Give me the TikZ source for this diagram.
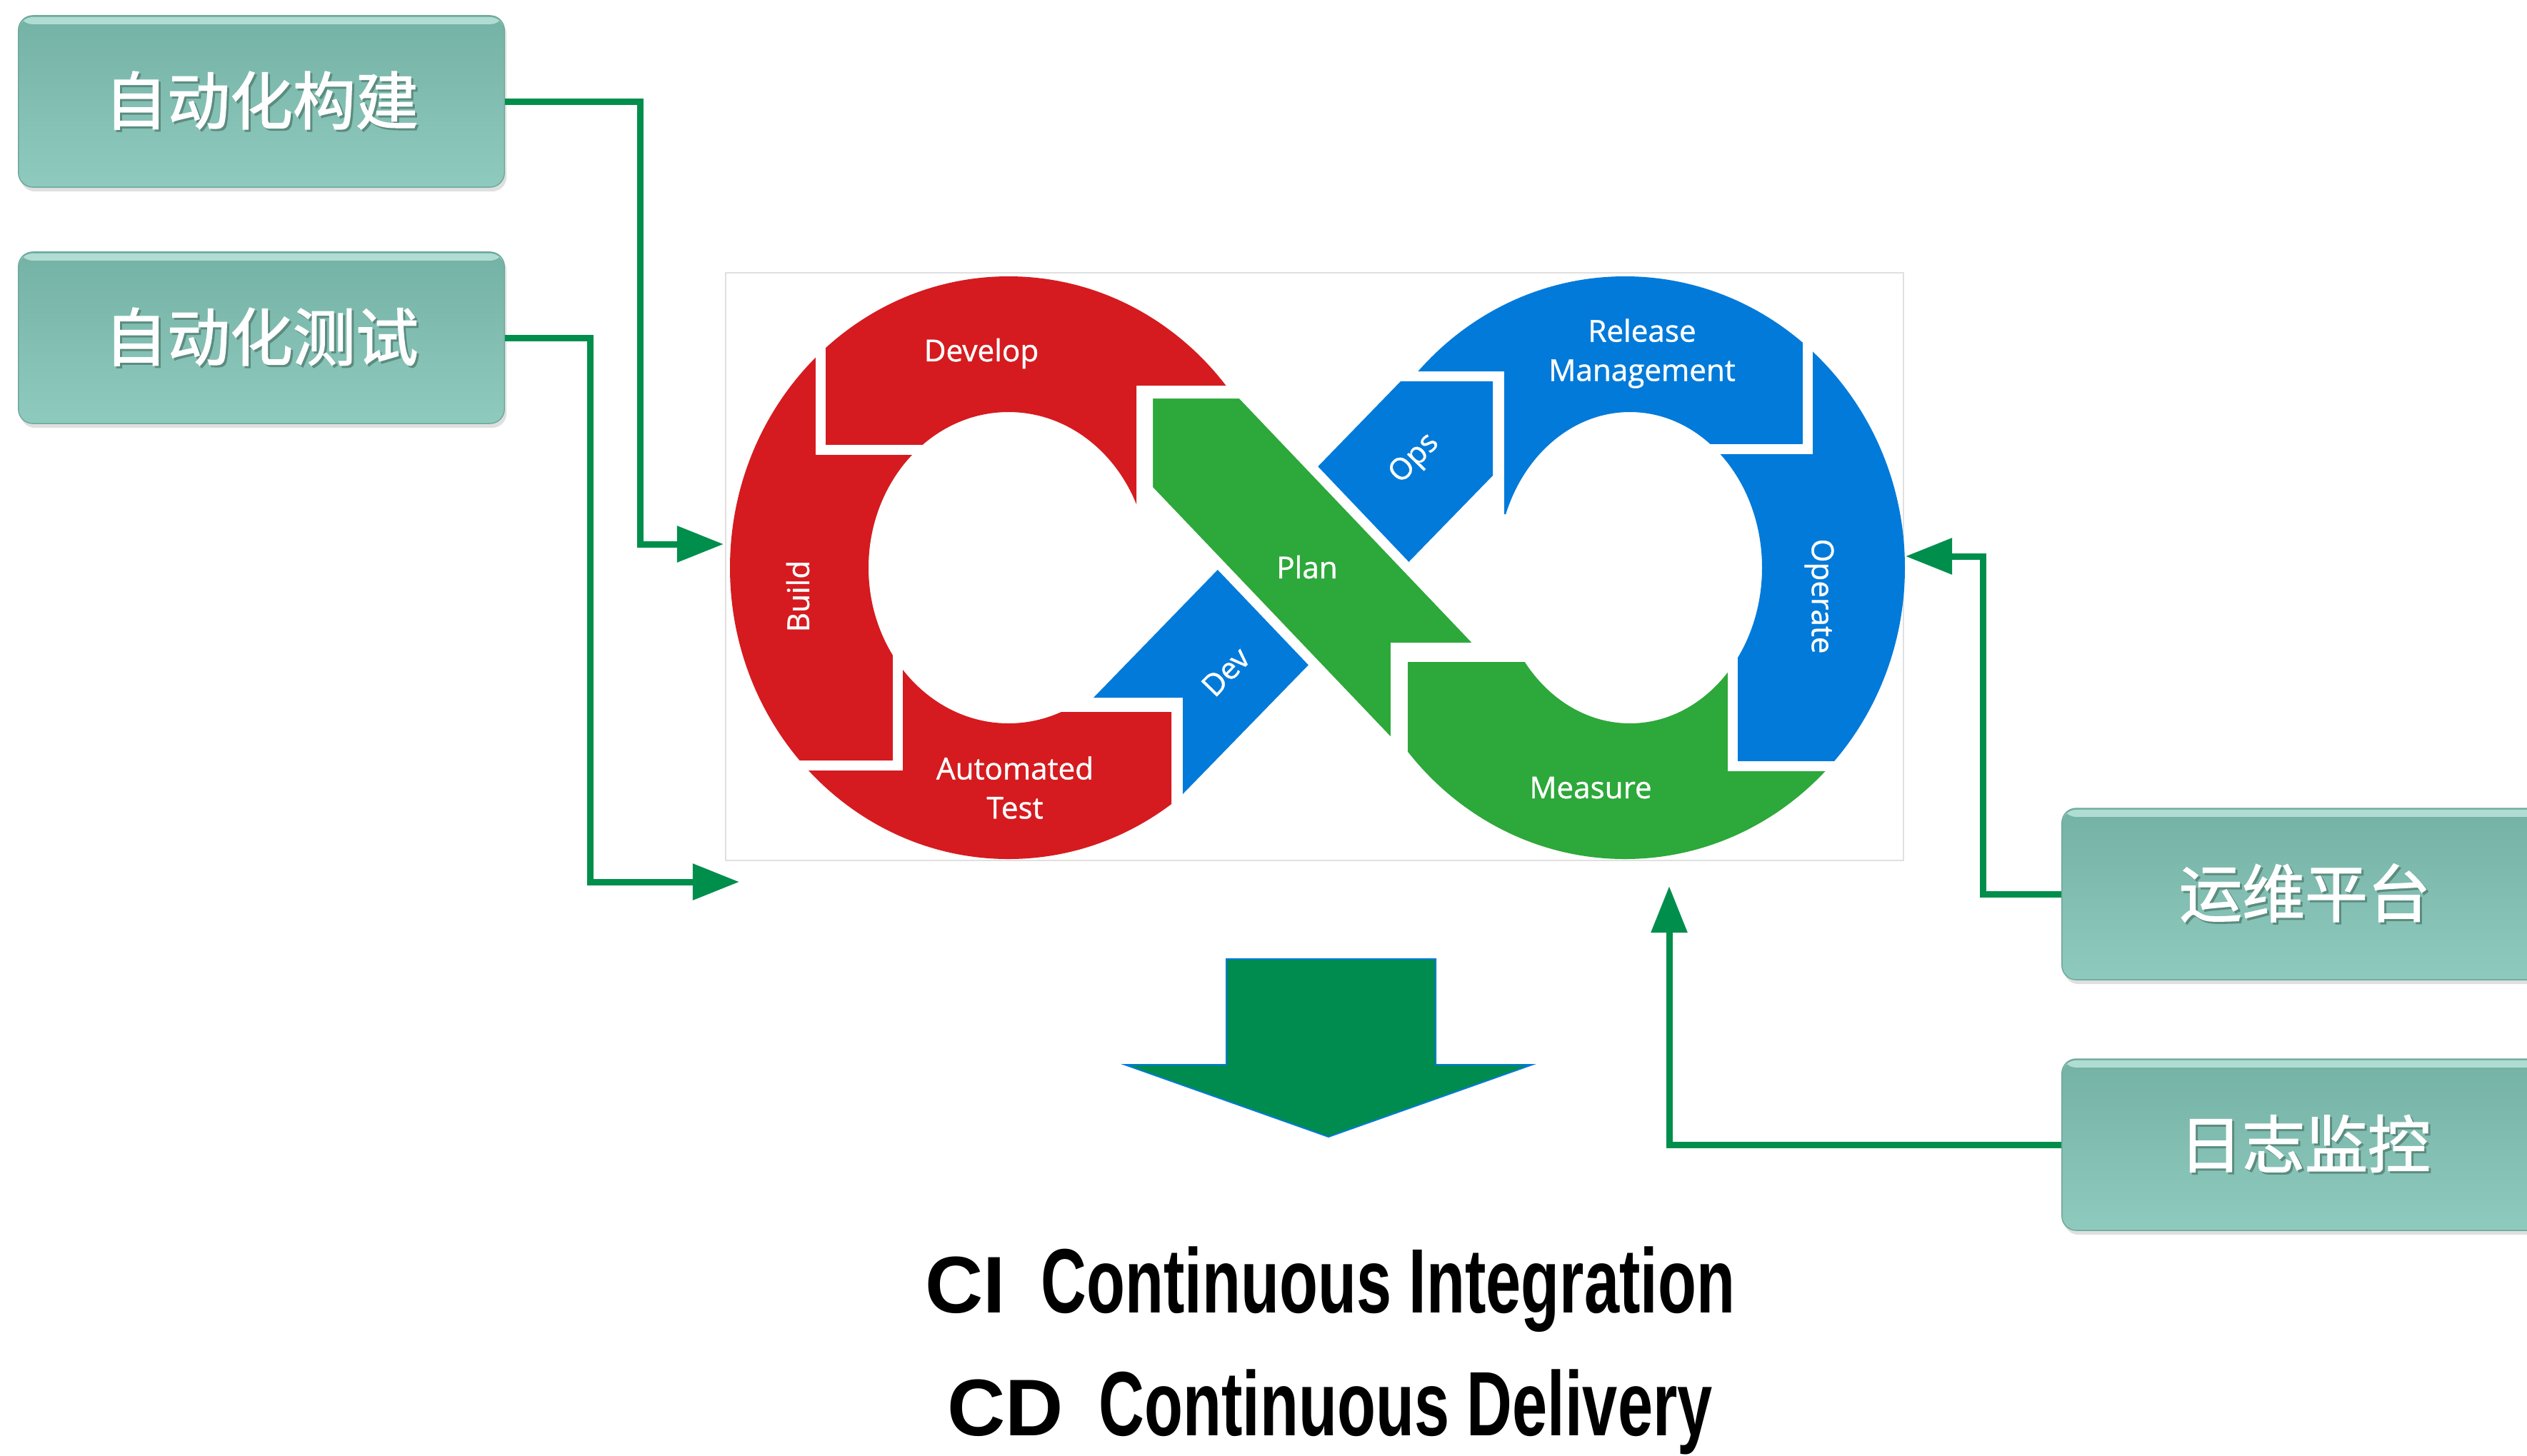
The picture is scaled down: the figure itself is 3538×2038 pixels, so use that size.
\documentclass[tikz,border=0pt]{standalone}
\usepackage{fontspec}
\usepackage{graphicx}
\usetikzlibrary{arrows.meta, shadows}
\newfontfamily\cjk{Noto Sans CJK SC}[FakeBold=1.6]
\newfontfamily\logofont{Open Sans}[FakeBold=1]
\newfontfamily\cifont{Liberation Sans}

\definecolor{devred}{RGB}{213,27,31}
\definecolor{devblue}{RGB}{2,122,218}
\definecolor{devgreen}{RGB}{45,168,58}
\definecolor{linkgreen}{RGB}{0,142,76}
\definecolor{bigarrow}{RGB}{0,140,78}
\definecolor{boxtop}{RGB}{116,178,165}
\definecolor{boxbottom}{RGB}{143,202,190}
\definecolor{boxhigh}{RGB}{176,221,211}
\definecolor{boxedge}{RGB}{110,168,155}
\definecolor{framegray}{RGB}{224,224,224}
\definecolor{textshade}{RGB}{92,140,128}

\newcommand{\shadowed}[1]{\rlap{\raisebox{-0.3mm}{\hspace{0.3mm}\textcolor{textshade}{#1}}}#1}
\newcommand{\narrow}[1]{\scalebox{0.69}[1]{#1}}

\tikzset{
  stagebox/.style={rounded corners=2mm, draw=boxedge, line width=0.4pt,
    top color=boxtop, bottom color=boxbottom,
    minimum width=68mm, minimum height=24mm, text=white,
    font=\cjk\fontsize{25}{30}\selectfont,
    drop shadow={opacity=0.25, shadow xshift=0.3mm, shadow yshift=-0.6mm},
    path picture={\fill[boxhigh] ([yshift=-0.2mm]path picture bounding box.north west)
      rectangle ([yshift=-1.2mm]path picture bounding box.north east);}},
  link/.style={linkgreen, line width=0.9mm, -{Triangle[length=6.5mm, width=4.9mm]}},
  logotext/.style={text=white, font=\logofont\fontsize{12}{15.6}\selectfont,
    align=center, inner sep=0pt},
  gap/.style={white, line width=1.4mm}
}

\begin{document}
\begin{tikzpicture}[x=0.01cm, y=-0.01cm]
  \useasboundingbox (0,0) rectangle (3538,2038);

  % Kaesten
  \foreach \nm/\pos/\txt in {buildbox/{366,142}/自动化构建, testbox/{366,473}/自动化测试,
                             opsbox/{3227,1252}/运维平台, logbox/{3227,1603}/日志监控}
    \node[stagebox] (\nm) at (\pos) {\shadowed{\txt}};

  % Rahmen um das Logo
  \draw[framegray, line width=0.2mm] (1016,382) rectangle (2665,1205);

  \coordinate (lc) at (1412,795);
  \coordinate (rc) at (2275,795);
  \coordinate (rh) at (2282,795);

  % linke Schleife
  \begin{scope}
    \clip (900,300) -- (1800,300) -- (1800,540) -- (1591,540) -- (1591,720)
      -- (1480,997) -- (1640,997) -- (1640,1300) -- (900,1300) -- cycle;
    \fill[devred, even odd rule] (lc) ellipse [x radius=390, y radius=408]
      (lc) ellipse [x radius=196, y radius=218];
  \end{scope}

  % rechte Schleife
  \begin{scope}
    \clip (1900,300) -- (2800,300) -- (2800,1073) -- (2426,1073) -- (2426,850)
      -- (2300,700) -- (2150,720) -- (2106,720) -- (2106,520) -- (1900,520) -- cycle;
    \fill[devblue, even odd rule] (rc) ellipse [x radius=392, y radius=408]
      (rh) ellipse [x radius=185, y radius=218];
  \end{scope}
  \begin{scope}
    \clip (1971,927) -- (2426,927) -- (2426,1073) -- (2800,1073) -- (2800,1300)
      -- (1971,1300) -- cycle;
    \fill[devgreen, even odd rule] (rc) ellipse [x radius=392, y radius=408]
      (rh) ellipse [x radius=185, y radius=218];
  \end{scope}

  % Luecken
  \draw[gap] (1149,440) -- (1149,630) -- (1330,630);
  \draw[gap] (1090,1072) -- (1257,1072) -- (1257,880);
  \draw[gap] (2531,440) -- (2531,629) -- (2370,629);
  \draw[gap] (2426,880) -- (2426,1073) -- (2620,1073);

  % Baender
  \fill[devblue] (1531,977) -- (1656,977) -- (1656,1112) -- (2090,666)
    -- (2090,534) -- (1961,534) -- cycle;
  \filldraw[fill=devgreen, draw=white, line width=1.4mm] (1607,551) -- (1738,551)
    -- (2077,907) -- (1954,907) -- (1954,1049) -- (1607,685) -- cycle;

  % Beschriftung im Logo
  \foreach \nm/\pos/\rot/\txt in {lbdevelop/{1374,495}/0/Develop, lbbuild/{1117,835}/90/Build,
      lbtest/{1421,1103}/0/{Automated\\Test}, lbdev/{1716,941}/46/Dev,
      lbplan/{1830,794}/0/Plan, lbops/{1981,643}/46/Ops,
      lbrelease/{2299,495}/0/{Release\\Management}, lboperate/{2547,835}/-90/Operate,
      lbmeasure/{2227,1103}/0/Measure}
    \node[logotext, rotate=\rot] (\nm) at (\pos) {\txt};

  % Pfeile
  \coordinate (buildin) at (1013,762);
  \coordinate (testin) at (1035,1235);
  \coordinate (opsin) at (2668,779);
  \coordinate (login) at (2337,1241);
  \draw[link] (buildbox.east) -- ++(190,0) |- (buildin);
  \draw[link] (testbox.east) -- ++(120,0) |- (testin);
  \draw[link] (opsbox.west) -- ++(-110,0) |- (opsin);
  \draw[link] (logbox.west) -| (login);

  % grosser Pfeil
  \filldraw[fill=bigarrow, draw=devblue, line width=0.2mm] (1717,1343) -- (2010,1343)
    -- (2010,1491) -- (2145,1491) -- (1860,1592) -- (1575,1491) -- (1717,1491) -- cycle;

  % CI / CD
  \node[anchor=base] (ci) at (1862,1838) {{\cifont\bfseries\fontsize{32}{36}\selectfont CI}%
    \hspace{5mm}\narrow{\cifont\bfseries\fontsize{36.4}{40}\selectfont Continuous Integration}};
  \node[anchor=base] (cd) at (1862,2010) {{\cifont\bfseries\fontsize{32}{36}\selectfont CD}%
    \hspace{5mm}\narrow{\cifont\bfseries\fontsize{36.4}{40}\selectfont Continuous Delivery}};
\end{tikzpicture}
\end{document}
